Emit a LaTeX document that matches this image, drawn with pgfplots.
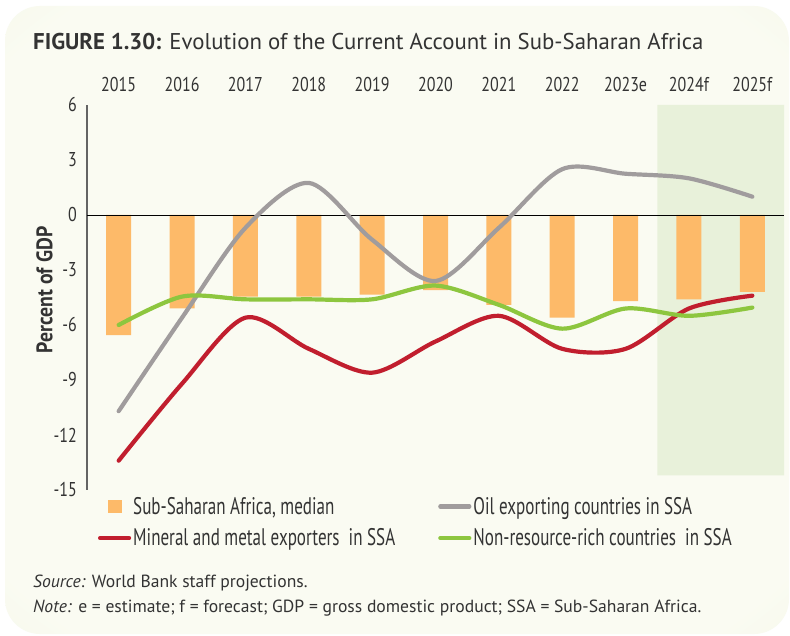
\documentclass[border=0pt]{standalone}
\usepackage{pgfplots}
\pgfplotsset{compat=1.18}
\usepackage{fontspec}
\setmainfont{PT Sans}
\newfontfamily\condfont{PT Sans}[FakeStretch=0.8]
\newfontfamily\legfont{PT Sans}[FakeStretch=0.71]
\newfontfamily\semicond{PT Sans}[FakeStretch=0.88]
\definecolor{barorange}{RGB}{253,186,105}
\definecolor{oilgray}{RGB}{160,156,157}
\definecolor{minred}{RGB}{193,30,46}
\definecolor{nrgreen}{RGB}{141,198,63}
\definecolor{fcgreen}{RGB}{232,241,218}
\definecolor{bgin}{RGB}{250,251,242}
\definecolor{bgout}{RGB}{236,242,214}
\definecolor{txt}{RGB}{51,51,51}
\definecolor{axgray}{RGB}{100,100,100}
\pgfdeclareradialshading{bgshade}{\pgfpoint{0bp}{0bp}}{color(0bp)=(bgin); color(32bp)=(bgin); color(52bp)=(bgout); color(80bp)=(bgout)}
\begin{document}
\begin{tikzpicture}[x=1pt,y=1pt]
\useasboundingbox (0,0) rectangle (790,635);
\fill[white] (0,0) rectangle (790,635);
\shade[shading=bgshade, rounded corners=35pt] (5,1) rectangle (789,629);
\node[anchor=west, text=txt, font=\fontsize{22.8}{26}\selectfont, inner sep=0pt] at (33,593) {\textbf{FIGURE 1.30:} Evolution of the Current Account in Sub-Saharan Africa};
\node[anchor=west, text=txt, font=\fontsize{17.6}{20}\selectfont, inner sep=0pt] at (33,52) {\textit{Source:} World Bank staff projections.};
\node[anchor=west, text=txt, font=\fontsize{17.6}{20}\selectfont, inner sep=0pt] at (33,27) {\textit{Note:} e = estimate; f = forecast; GDP = gross domestic product; SSA = Sub-Saharan Africa.};
\begin{axis}[
  at={(87pt,145pt)}, anchor=south west,
  scale only axis, width=697pt, height=385pt,
  xmin=-0.5, xmax=10.5, ymin=-15, ymax=6,
  axis y line=left, axis x line=top,
  x axis line style={draw=none},
  y axis line style={-, draw=axgray, line width=1.8pt},
  major tick length=0pt,
  xtick={0,...,10},
  xticklabels={2015,2016,2017,2018,2019,2020,2021,2022,2023e,2024f,2025f},
  xticklabel pos=upper,
  ytick={-15,-12,-9,-6,-3,0,3,6},
  yticklabels={-15,-12,-9,-6,-3,0,3,6},
  ticklabel style={font=\condfont\fontsize{20}{24}\selectfont, text=txt},
  xticklabel style={anchor=south, inner sep=0pt, yshift=13pt},
  yticklabel style={anchor=east, inner sep=0pt, xshift=-10pt},
  ylabel={\textbf{Percent of GDP}},
  ylabel style={font=\semicond\fontsize{22.5}{26}\selectfont, text=txt, at={(axis description cs:-0.061,0.52)}, anchor=center},
  clip=false,
  legend columns=2,
  legend cell align=left,
  legend image code/.code={\draw[#1] (0pt,0pt) -- (29pt,0pt);},
  legend style={draw=none, fill=none, at={(axis description cs:0.0155,-0.013)}, anchor=north west,
     font=\legfont\fontsize{24}{28}\selectfont, text=txt,
     /tikz/every even column/.append style={column sep=41pt},
     row sep=9pt, inner xsep=0pt, inner ysep=0pt},
]
\addplot[fill=fcgreen, draw=none, forget plot] coordinates {(8.5,-14.2)(10.5,-14.2)(10.5,6)(8.5,6)} \closedcycle;
\addplot[ybar, bar width=25pt, fill=barorange, draw=none,
  legend image code/.code={\fill[barorange] (8pt,-6.5pt) rectangle (22pt,6.5pt); \path (0pt,0pt) (29pt,0pt);}]
  coordinates {(0,-6.55)(1,-5.1)(2,-4.45)(3,-4.45)(4,-4.35)(5,-4.1)(6,-4.9)(7,-5.6)(8,-4.7)(9,-4.6)(10,-4.2)};
\addlegendentry{Sub-Saharan Africa, median}
\addplot[black, line width=0.9pt, forget plot] coordinates {(-0.5,0)(10.5,0)};
\addplot[oilgray, line width=4.2pt, line cap=round, smooth]
  coordinates {(0,-10.7)(1,-5.6)(2,-0.7)(3,1.75)(4,-1.35)(5,-3.6)(6,-0.7)(7,2.5)(8,2.25)(9,2.0)(10,1.0)};
\addlegendentry{Oil exporting countries in SSA}
\addplot[minred, line width=4.2pt, line cap=round, smooth]
  coordinates {(0,-13.4)(1,-9.2)(2,-5.6)(3,-7.3)(4,-8.6)(5,-6.9)(6,-5.5)(7,-7.3)(8,-7.3)(9,-5.1)(10,-4.4)};
\addlegendentry{Mineral and metal exporters\ \ in SSA}
\addplot[nrgreen, line width=4.2pt, line cap=round, smooth]
  coordinates {(0,-6.0)(1,-4.45)(2,-4.6)(3,-4.6)(4,-4.6)(5,-3.85)(6,-4.9)(7,-6.2)(8,-5.1)(9,-5.5)(10,-5.05)};
\addlegendentry{Non-resource-rich countries\ \ in SSA}
\end{axis}
\end{tikzpicture}
\end{document}
